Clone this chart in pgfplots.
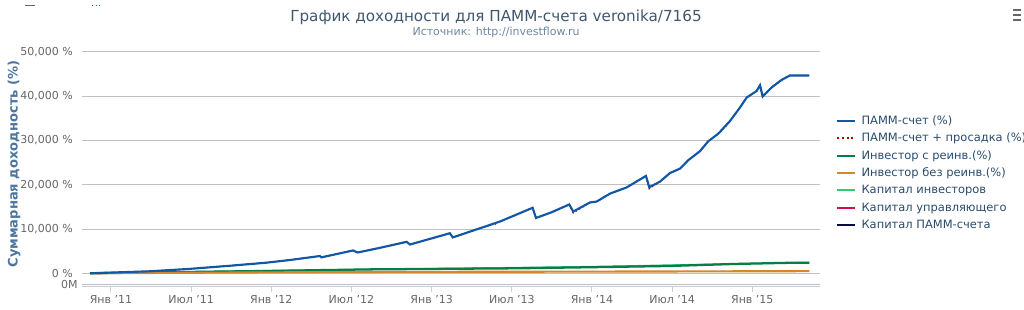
\documentclass[border=0pt]{standalone}
\usepackage{fontspec}
\setmainfont{DejaVu Sans}
\usepackage{pgfplots}
\pgfplotsset{compat=1.18}
\definecolor{cblue}{RGB}{16,88,166}
\definecolor{cred}{RGB}{170,0,0}
\definecolor{cgreen}{RGB}{8,125,72}
\definecolor{corange}{RGB}{212,135,44}
\definecolor{clgreen}{RGB}{46,204,113}
\definecolor{ccrim}{RGB}{208,16,76}
\definecolor{cnavy}{RGB}{10,10,72}
\definecolor{ctitle}{RGB}{62,87,111}
\definecolor{csub}{RGB}{109,134,159}
\definecolor{cylab}{RGB}{77,117,158}
\definecolor{ctick}{RGB}{102,102,102}
\definecolor{clegend}{RGB}{39,75,109}
\definecolor{cgrid}{RGB}{192,192,192}
\definecolor{caxis}{RGB}{192,208,224}
\begin{document}
\begin{tikzpicture}
\path[use as bounding box] (0,0) rectangle (768pt,232.5pt);
\begin{scope}[x=0.75pt,y=0.75pt]
\node[text=ctitle,font=\fontsize{11.4}{13}\selectfont] at (496,293) {График доходности для ПАММ-счета veronika/7165};
\node[text=csub,font=\fontsize{8.25}{10}\selectfont] at (496,278) {Источник: http://investflow.ru};
\node[text=cylab,font=\bfseries\fontsize{9.8}{11}\selectfont,rotate=90] at (14,146) {Суммарная доходность (\%)};
\draw[ctick,line width=1.5pt] (1013,300)--(1021,300) (1013,295)--(1021,295) (1013,290)--(1021,290);
\draw[ctick,line width=0.75pt] (25,304.5)--(35,304.5);
\draw[cgreen,line width=0.75pt,dotted] (92,304.5)--(101,304.5);
\end{scope}
\begin{axis}[
  at={(61.5pt,17.25pt)}, anchor=south west,
  scale only axis, width=553.5pt, height=176.25pt,
  xmin=-2.17, xmax=53.07, ymin=-3100, ymax=50000,
  scaled y ticks=false, scaled x ticks=false,
  axis lines*=left,
  x axis line style={caxis, line width=0.75pt},
  y axis line style={draw=none},
  xtick={0,6,12,18,24,30,36,42,48},
  xticklabels={Янв '11,Июл '11,Янв '12,Июл '12,Янв '13,Июл '13,Янв '14,Июл '14,Янв '15},
  x tick style={caxis, line width=0.75pt},
  major tick length=3.75pt,
  tick align=outside,
  xticklabel style={anchor=north, inner sep=0pt, yshift=-2.5pt, text=ctick, font=\fontsize{8.25}{10}\selectfont},
  ytick={0,10000,20000,30000,40000,50000},
  yticklabels={{0 \%},{10,000 \%},{20,000 \%},{30,000 \%},{40,000 \%},{50,000 \%}},
  extra y ticks={-2500},
  extra y tick labels={0M},
  extra y tick style={grid=major, major tick length=0pt},
  y tick style={draw=none},
  yticklabel style={anchor=east, inner sep=0pt, xshift=-3pt, text=ctick, font=\fontsize{8.25}{10}\selectfont},
  ymajorgrids,
  major grid style={cgrid, line width=0.75pt},
  legend style={at={(1,0.485)}, anchor=west, xshift=9pt, draw=none, fill=none,
    font=\fontsize{8.6}{10}\selectfont, text=clegend, row sep=4pt, column sep=4pt,
    nodes={inner sep=0pt, text height=7pt, text depth=2pt}},
  legend cell align=left,
  legend image code/.code={\draw[#1] (0pt,0pt) -- (13.5pt,0pt);},
  clip=false,
]
\addplot[forget plot, clgreen, line width=1pt] coordinates {
(-1.57,0) (11.6,600) (25,1100) (36.6,1550) (46.6,2150) (52.27,2450)};
\addplot[forget plot, cgreen, line width=1.7pt] coordinates {
(-1.57,0) (5.9,300) (11.6,520) (19.4,880) (30.6,1130) (36.6,1400) (41.8,1650) (46.6,2100) (50.5,2350) (52.27,2400)};
\addplot[forget plot, corange, line width=1.6pt] coordinates {
(-1.57,0) (5.9,120) (11.6,200) (19.4,300) (36.6,380) (52.27,480)};
\addplot[forget plot, cred, line width=1pt, dotted] coordinates {
(-1.57,0) (2.9,450) (5.91,1000) (8.9,1700) (11.65,2400) (13.4,3000) (15.64,3900) (15.75,3600)
(18.11,5150) (18.47,4700) (20.13,5750) (22.13,7100) (22.38,6500) (25.37,9050) (25.58,8100)
(28.6,11100) (28.7,10900) (28.8,11200)
(29.12,11700) (31.56,14800) (31.81,12500) (32.99,13800) (34.30,15550) (34.60,13650)
(35.85,16000) (36.35,16200) (37.35,18000) (38.60,19400) (40.04,22000) (40.29,19100)
(41.09,20700) (41.84,22650) (42.59,23650) (43.21,25550) (44.09,27600) (44.71,29850)
(45.46,31550) (46.1,33500) (46.33,34400) (47.08,37450) (47.58,39700) (48.33,41200) (48.58,42500)
(48.78,39950) (49.45,42000) (50.20,43700) (50.82,44700) (52.27,44700)};
\addplot[forget plot, cblue, line width=1.6pt] coordinates {
(-1.57,0) (2.9,450) (5.91,1000) (8.9,1700) (11.65,2400) (13.4,3000) (15.64,3900) (15.75,3600)
(18.11,5150) (18.47,4700) (20.13,5750) (22.13,7100) (22.38,6500) (25.37,9050) (25.58,8100)
(29.12,11700) (31.56,14800) (31.81,12500) (32.99,13800) (34.30,15550) (34.60,13950)
(35.85,16000) (36.35,16200) (37.35,18000) (38.60,19400) (40.04,22000) (40.29,19450)
(41.09,20700) (41.84,22650) (42.59,23650) (43.21,25550) (44.09,27600) (44.71,29850)
(45.46,31550) (46.33,34400) (47.08,37450) (47.58,39700) (48.33,41200) (48.58,42500)
(48.78,39950) (49.45,42000) (50.20,43700) (50.82,44700) (52.27,44700)};
\addlegendimage{cblue, line width=1.5pt}
\addlegendentry{ПАММ-счет (\%)}
\addlegendimage{cred, line width=1.5pt, dotted}
\addlegendentry{ПАММ-счет + просадка (\%)}
\addlegendimage{cgreen, line width=1.5pt}
\addlegendentry{Инвестор с реинв.(\%)}
\addlegendimage{corange, line width=1.5pt}
\addlegendentry{Инвестор без реинв.(\%)}
\addlegendimage{clgreen, line width=1.5pt}
\addlegendentry{Капитал инвесторов}
\addlegendimage{ccrim, line width=1.5pt}
\addlegendentry{Капитал управляющего}
\addlegendimage{cnavy, line width=1.5pt}
\addlegendentry{Капитал ПАММ-счета}
\end{axis}
\end{tikzpicture}
\end{document}
